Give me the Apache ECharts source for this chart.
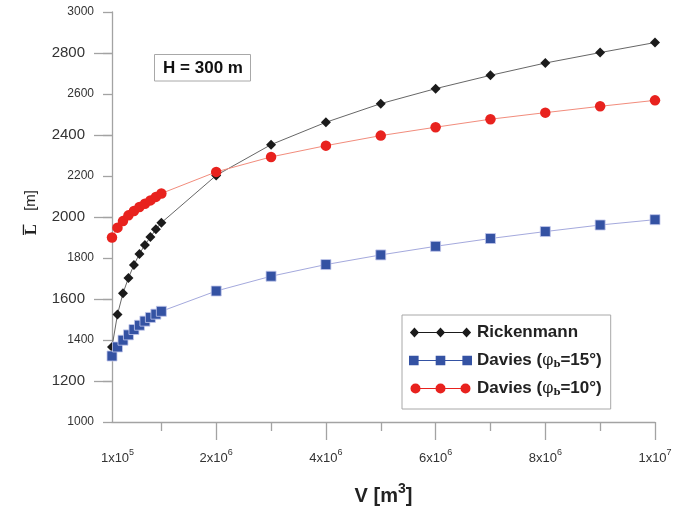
<!DOCTYPE html>
<html>
<head>
<meta charset="utf-8">
<script src="https://cdn.jsdelivr.net/npm/echarts@6/dist/echarts.min.js"></script>
<style>html,body{margin:0;padding:0;background:#fff;}#c{width:685px;height:508px;}</style>
</head>
<body>
<div id="c"></div>
<script>
// ---- data ----
const volumes = [1e5,2e5,3e5,4e5,5e5,6e5,7e5,8e5,9e5,1e6,2e6,3e6,4e6,5e6,6e6,7e6,8e6,9e6,1e7];
const rickenmann = [1366,1525,1628,1703,1766,1820,1864,1902,1940,1972,2203,2353,2462,2553,2626,2691,2751,2802,2851];
const davies15 = [1322,1366,1399,1425,1451,1472,1492,1510,1526,1540,1639,1711,1768,1815,1857,1895,1929,1961,1987];
const davies10 = [1900,1948,1980,2008,2029,2049,2065,2081,2098,2115,2220,2293,2348,2397,2438,2477,2509,2540,2569];
const seriesNames = ['Rickenmann','Davies (φb=15°)','Davies (φb=10°)'];
const xLabelValues = [1e5,2e6,4e6,6e6,8e6,1e7];
const xLabelMantissa = ['1','2','4','6','8','1'];
const xLabelExponent = ['5','6','6','6','6','7'];
const xMajorTicks = [2e6,4e6,6e6,8e6,1e7];
const xMinorTicks = [1e6,3e6,5e6,7e6,9e6];
const yMajorTicks = [1200,1600,2000,2400,2800];
const annotation = 'H = 300 m';

const pairs = ys => volumes.map((v,i)=>[v, ys[i]]);
const axisGray = '#a3a3a3';
const font = 'Liberation Sans, Arial, sans-serif';

const iconLine = 'M9 4.6H26V5.4H9Z M34 4.6H51V5.4H34Z ';
const diamondIcon = 'path://' + iconLine + 'M0.6 5L5 0.2L9.4 5L5 9.8Z M25.6 5L30 0.2L34.4 5L30 9.8Z M50.6 5L55 0.2L59.4 5L55 9.8Z';
const squareIcon = 'path://' + iconLine + 'M0.5 0.5H9.5V9.5H0.5Z M25.5 0.5H34.5V9.5H25.5Z M50.5 0.5H59.5V9.5H50.5Z';
const circleIcon = 'path://' + iconLine + 'M0 5a5 5 0 1 1 10 0a5 5 0 1 1 -10 0Z M25 5a5 5 0 1 1 10 0a5 5 0 1 1 -10 0Z M50 5a5 5 0 1 1 10 0a5 5 0 1 1 -10 0Z';

const chart = echarts.init(document.getElementById('c'));
chart.setOption({
  animation: false,
  backgroundColor: '#fff',
  textStyle: {fontFamily: font},
  grid: {left: 112, right: 30, top: 12, bottom: 86, containLabel: false, outerBoundsMode: 'none'},
  xAxis: [{
    type: 'value', min: 1e5, max: 1e7, position: 'bottom',
    axisLine: {onZero: false, lineStyle: {color: axisGray, width: 1.3}},
    axisTick: {show: true, length: 18, customValues: xMajorTicks, lineStyle: {color: axisGray, width: 1.3}},
    splitLine: {show: false},
    axisLabel: {
      customValues: xLabelValues, showMinLabel: true, showMaxLabel: true, margin: 26,
      formatter: v => {
        const i = xLabelValues.indexOf(v);
        if (i < 0) return '';
        return (i === 0 ? '{f|' : '{b|') + xLabelMantissa[i] + 'x10}{s|' + xLabelExponent[i] + '}';
      },
      rich: {
        b: {fontSize: 13, color: '#333', fontFamily: font, padding: [4,0,0,0]},
        f: {fontSize: 13, color: '#333', fontFamily: font, padding: [4,0,0,11]},
        s: {fontSize: 9, color: '#333', fontFamily: font, verticalAlign: 'top'}
      }
    },
    name: '{v|V [m}{t|3}{v|]}', nameLocation: 'middle', nameGap: 60,
    nameTextStyle: {
      rich: {
        v: {fontSize: 20, fontWeight: 'bold', color: '#222', fontFamily: font, padding: [4,0,0,0]},
        t: {fontSize: 14, fontWeight: 'bold', color: '#222', fontFamily: font, verticalAlign: 'top'}
      }
    }
  }, {
    type: 'value', min: 1e5, max: 1e7, position: 'bottom', offset: 0,
    axisLine: {show: false, onZero: false},
    axisTick: {show: true, length: 9, customValues: xMinorTicks, lineStyle: {color: axisGray, width: 1.3}},
    axisLabel: {show: false}, splitLine: {show: false}
  }],
  yAxis: [{
    type: 'value', min: 1000, max: 3000, interval: 200,
    axisLine: {show: true, onZero: false, lineStyle: {color: axisGray, width: 1.3}},
    axisTick: {show: true, length: 9, lineStyle: {color: axisGray, width: 1.3}},
    splitLine: {show: false},
    axisLabel: {
      margin: 18,
      formatter: v => (yMajorTicks.indexOf(v) >= 0 ? '{M|' + v + '}' : '{m|' + v + '}'),
      rich: {
        M: {fontSize: 15, color: '#333', fontFamily: font, padding: [0,9,0,0]},
        m: {fontSize: 12, color: '#333', fontFamily: font}
      }
    }
  }, {
    type: 'value', min: 1000, max: 3000, interval: 200, position: 'left', offset: 0,
    axisLine: {show: false, onZero: false},
    axisTick: {show: true, length: 18, customValues: yMajorTicks, lineStyle: {color: axisGray, width: 1.3}},
    axisLabel: {show: false}, splitLine: {show: false}
  }],
  legend: {
    orient: 'vertical', left: 402, top: 315,
    itemWidth: 63, itemHeight: 10, itemGap: 11,
    padding: [9, 9, 12, 7],
    borderColor: '#a8a8a8', borderWidth: 1, backgroundColor: '#fff',
    itemStyle: {borderWidth: 0},
    data: [
      {name: seriesNames[0], icon: diamondIcon},
      {name: seriesNames[1], icon: squareIcon},
      {name: seriesNames[2], icon: circleIcon}
    ],
    formatter: n => {
      if (n === seriesNames[0]) return '{t|Rickenmann}';
      const deg = n === seriesNames[1] ? '15°' : '10°';
      return '{t|Davies (}{p|φ}{s|b}{t|=' + deg + ')}';
    },
    textStyle: {
      fontSize: 17, fontWeight: 'bold', color: '#222', fontFamily: font,
      rich: {
        t: {fontSize: 17, fontWeight: 'bold', color: '#222', fontFamily: font},
        p: {fontSize: 16, fontWeight: 'normal', color: '#222', fontFamily: 'DejaVu Serif, serif'},
        s: {fontSize: 10, fontWeight: 'bold', color: '#222', fontFamily: 'DejaVu Serif, serif', verticalAlign: 'bottom'}
      }
    }
  },
  graphic: [
    {type: 'rect', shape: {x: 154.5, y: 54.5, width: 96, height: 26.5}, style: {fill: '#fff', stroke: '#a8a8a8', lineWidth: 1}, z: 10},
    {type: 'text', x: 203, y: 68.5, style: {text: annotation, font: 'bold 17px ' + font, fill: '#111', align: 'center', verticalAlign: 'middle'}, z: 11},
    {type: 'group', x: 31, y: 217, rotation: Math.PI / 2, z: 10, children: [
      {type: 'text', x: -18, y: 1, style: {text: 'L', font: 'bold 16px "Liberation Serif", serif', fill: '#222', align: 'left', verticalAlign: 'middle'}},
      {type: 'rect', shape: {x: -18, y: -8.2, width: 10.5, height: 1.3}, style: {fill: '#222'}},
      {type: 'text', x: 2, y: 0, style: {text: ' [m]', font: '15px ' + font, fill: '#222', align: 'left', verticalAlign: 'middle'}}
    ]}
  ],
  series: [
    {name: seriesNames[0], type: 'line', clip: false, data: pairs(rickenmann),
     symbol: 'diamond', symbolSize: 10, itemStyle: {color: '#1b1b1b'},
     lineStyle: {color: '#555', width: 0.9}},
    {name: seriesNames[1], type: 'line', clip: false, data: pairs(davies15),
     symbol: 'rect', symbolSize: 10, itemStyle: {color: '#3452a3', borderColor: '#c3c8ec', borderWidth: 0.8},
     lineStyle: {color: '#a4a9dd', width: 1}},
    {name: seriesNames[2], type: 'line', clip: false, data: pairs(davies10),
     symbol: 'circle', symbolSize: 10.5, itemStyle: {color: '#e8221e'},
     lineStyle: {color: '#f28c7c', width: 1}}
  ]
});
</script>
</body>
</html>
